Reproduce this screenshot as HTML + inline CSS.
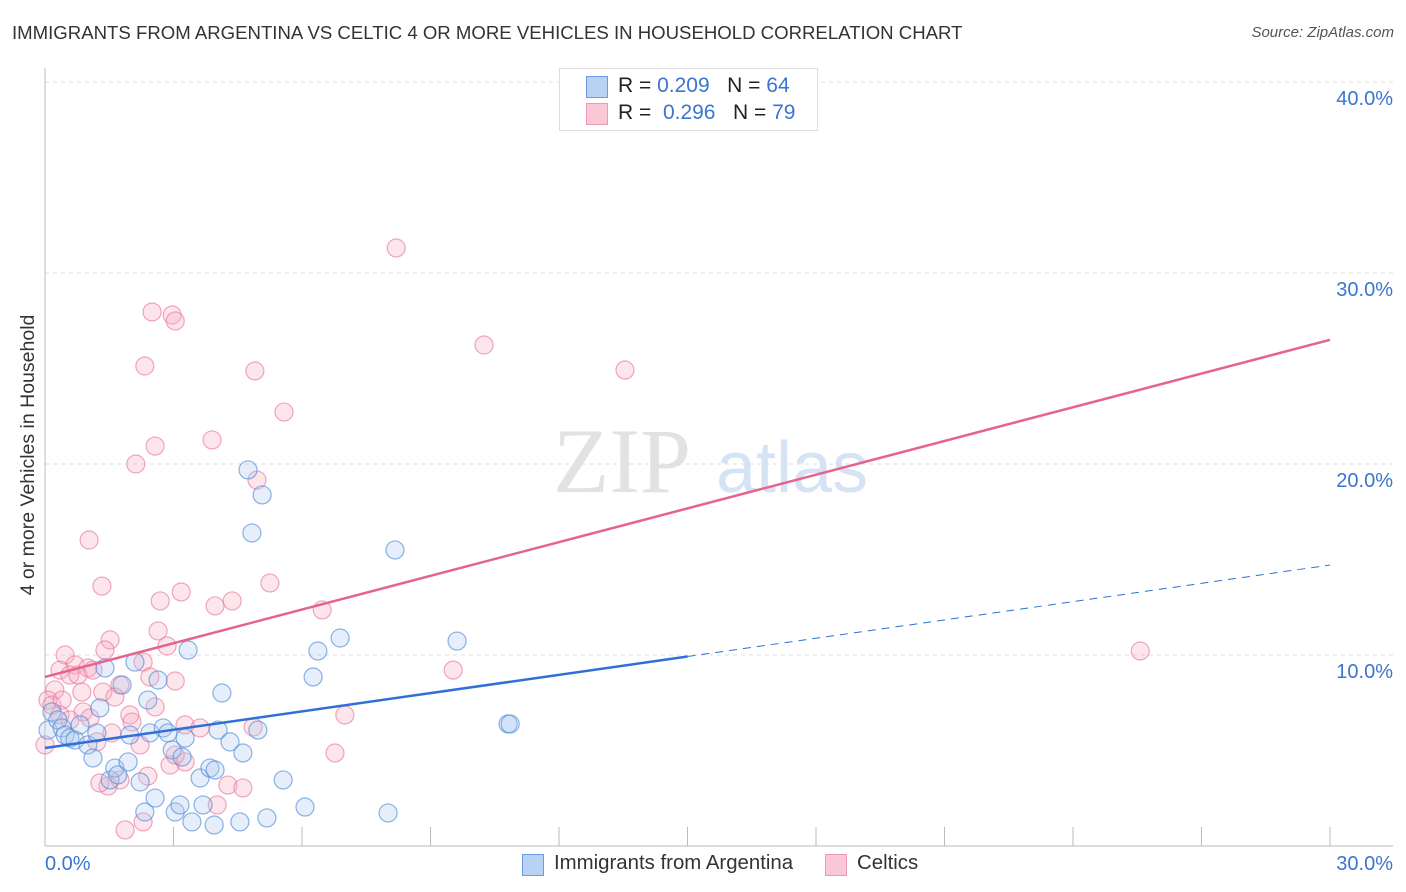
<!DOCTYPE html>
<html><head><meta charset="utf-8"><style>
body{margin:0;background:#fff;font-family:"Liberation Sans",sans-serif;}
#wrap{position:relative;width:1406px;height:892px;overflow:hidden;}
.t{position:absolute;white-space:nowrap;}
</style></head><body>
<div id="wrap">
<div class="t" style="left:12px;top:22px;font-size:18.6px;color:#333;">IMMIGRANTS FROM ARGENTINA VS CELTIC 4 OR MORE VEHICLES IN HOUSEHOLD CORRELATION CHART</div>
<div class="t" style="right:12px;top:24px;font-size:15px;color:#555;font-style:italic;">Source: ZipAtlas.com</div>
<svg id="svg" width="1406" height="892" style="position:absolute;left:0;top:0"></svg>
</div>
<script>
const xTicks=[0,30];
const yTicks=[10,20,30,40];
const blueX=[0.07,0.16,0.30,0.40,0.47,0.58,0.70,0.82,1.00,1.12,1.21,1.28,1.40,1.52,1.63,1.70,1.80,1.94,1.98,2.10,2.22,2.33,2.40,2.45,2.57,2.64,2.76,2.87,2.97,3.04,3.15,3.20,3.27,3.34,3.43,3.62,3.69,3.85,3.95,3.97,4.04,4.13,4.32,4.55,4.62,4.74,4.83,4.97,5.07,5.18,5.56,6.07,6.26,6.37,6.89,8.01,8.17,9.62,10.81,10.86];
const blueY=[6.07,7.02,6.60,6.18,5.81,5.65,5.55,6.34,5.29,4.61,5.92,7.23,9.32,3.46,4.08,3.72,8.43,4.40,5.81,9.63,3.35,1.78,7.64,5.92,2.51,8.69,6.18,5.92,5.03,1.78,2.15,4.66,5.65,10.26,1.26,3.56,2.15,4.08,1.10,3.98,6.07,8.01,5.45,1.26,4.87,19.69,16.39,6.07,18.38,1.47,3.46,2.04,8.85,10.21,10.89,1.73,15.50,10.73,6.39,6.39];
const pinkX=[8.20,10.25,13.54,25.57,2.50,2.97,3.04,2.33,4.90,5.58,3.90,2.57,2.12,4.95,1.03,1.33,5.25,3.18,2.69,4.37,3.97,6.47,2.64,1.52,2.85,0.47,1.40,0.70,1.00,0.35,2.29,0.58,0.77,1.12,0.23,0.86,1.35,1.75,2.45,3.04,0.07,0.16,0.40,0.35,0.89,1.05,1.63,1.98,2.03,2.57,3.27,3.62,4.86,7.00,9.53,6.77,1.21,2.22,2.92,3.27,1.75,2.40,1.47,4.27,4.62,4.02,1.87,2.29,1.28,0.0,0.58,1.56,3.04];
const pinkY=[31.31,26.23,24.92,10.21,27.96,27.80,27.49,25.13,24.87,22.72,21.26,20.94,20.0,19.16,16.02,13.61,13.77,13.30,12.83,12.83,12.57,12.36,11.26,10.79,10.47,10.0,10.26,9.48,9.32,9.21,9.63,8.95,8.95,9.21,8.17,8.06,8.06,8.43,8.85,8.64,7.64,7.38,7.64,6.86,7.02,6.70,7.80,6.86,6.49,7.28,6.34,6.18,6.23,6.86,9.21,4.87,5.45,5.29,4.24,4.40,3.46,3.66,3.14,3.19,3.04,2.15,0.84,1.26,3.30,5.29,6.60,5.92,4.76];
const blueTrend=[5.13,14.71];
const pinkTrend=[8.85,26.5];
const blueSolidEnd=15.0;

const svg=document.getElementById('svg');
const NS='http://www.w3.org/2000/svg';
const X=v=>45+v*1285/30;
const Y=v=>846-v*19.1;
function mk(tag,attrs,parent){const e=document.createElementNS(NS,tag);for(const k in attrs)e.setAttribute(k,attrs[k]);(parent||svg).appendChild(e);return e;}

let w=mk('text',{x:553,y:492,'font-family':'Liberation Serif,serif','font-size':92,fill:'#e2e2e2'});w.textContent='ZIP';


let w2=mk('text',{x:716,y:492,'font-family':'Liberation Sans,sans-serif','font-size':72,fill:'#d5e3f5'});w2.textContent='atlas';



yTicks.forEach(t=>{
  const g=mk('line',{x1:45,x2:1393,y1:Y(t),y2:Y(t),stroke:'#dcdcdc','stroke-dasharray':'4,4'});
  
  
  const l=mk('text',{x:1393,y:Y(t)+23,'text-anchor':'end','font-size':20,fill:'#3a75d0','font-family':'Liberation Sans,sans-serif'});
  l.textContent=t.toFixed(1)+'%';
  
  
});
let ax=mk('line',{x1:45,x2:45,y1:68,y2:846,stroke:'#bbb'});


let bx=mk('line',{x1:45,x2:1393,y1:846,y2:846,stroke:'#bbb'});


for(let k=1;k<=10;k++){
  const tk=mk('line',{x1:X(k*3),x2:X(k*3),y1:827,y2:846,stroke:'#bbb'});
  
  
}
xTicks.forEach((t,i)=>{
  const l=mk('text',{x:i==0?45:1393,y:870,'text-anchor':i==0?'start':'end','font-size':20,fill:'#3a75d0','font-family':'Liberation Sans,sans-serif'});
  l.textContent=t.toFixed(1)+'%';
  
  
});
let yt=mk('text',{x:0,y:0,transform:'translate(34,455) rotate(-90)','text-anchor':'middle','font-size':19.5,fill:'#333','font-family':'Liberation Sans,sans-serif'});
yt.textContent='4 or more Vehicles in Household';



function pts(xs,ys,fill,stroke,name){
  xs.forEach((x,i)=>{
    const c=mk('circle',{cx:X(x),cy:Y(ys[i]),r:9,fill:fill,'fill-opacity':0.3,stroke:stroke,'stroke-opacity':0.65,'stroke-width':1.2});
    
    
  });
}
pts(pinkX,pinkY,'#f7a8bf','#e87a9c','celtics-point');
pts(blueX,blueY,'#a9c8ef','#4f8ad8','argentina-point');

const by=x=>blueTrend[0]+(blueTrend[1]-blueTrend[0])*x/30;
let l1=mk('line',{x1:X(0),y1:Y(by(0)),x2:X(blueSolidEnd),y2:Y(by(blueSolidEnd)),stroke:'#2f6fd6','stroke-width':2.5});


let l2=mk('line',{x1:X(blueSolidEnd),y1:Y(by(blueSolidEnd)),x2:X(30),y2:Y(by(30)),stroke:'#2f6fd6','stroke-width':1,'stroke-dasharray':'8,6'});


let l3=mk('line',{x1:X(0),y1:Y(pinkTrend[0]),x2:X(30),y2:Y(pinkTrend[1]),stroke:'#e5648e','stroke-width':2.5});


</script>
<div class="t" style="left:559px;top:68px;width:257px;height:61px;border:1px solid #ddd;background:#fff;">
 <div class="t" style="left:26px;top:7px;width:20px;height:20px;background:#b8d2f4;border:1px solid #6a9ae0;"></div>
 <div class="t" style="left:58px;top:5px;font-size:21px;color:#222;">R = <span style="color:#3a75d0">0.209</span>&nbsp;&nbsp;&nbsp;N = <span style="color:#3a75d0">64</span></div>
 <div class="t" style="left:26px;top:34px;width:20px;height:20px;background:#fac7d6;border:1px solid #ee9ab4;"></div>
 <div class="t" style="left:58px;top:32px;font-size:21px;color:#222;">R =&nbsp; <span style="color:#3a75d0">0.296</span>&nbsp;&nbsp;&nbsp;N = <span style="color:#3a75d0">79</span></div>
</div>
<div class="t" style="left:522px;top:854px;width:20px;height:20px;background:#b8d2f4;border:1px solid #6a9ae0;"></div>
<div class="t" style="left:554px;top:852px;font-size:20.4px;color:#333;">Immigrants from Argentina</div>
<div class="t" style="left:825px;top:854px;width:20px;height:20px;background:#fac7d6;border:1px solid #ee9ab4;"></div>
<div class="t" style="left:857px;top:852px;font-size:20.4px;color:#333;">Celtics</div>
</body></html>
